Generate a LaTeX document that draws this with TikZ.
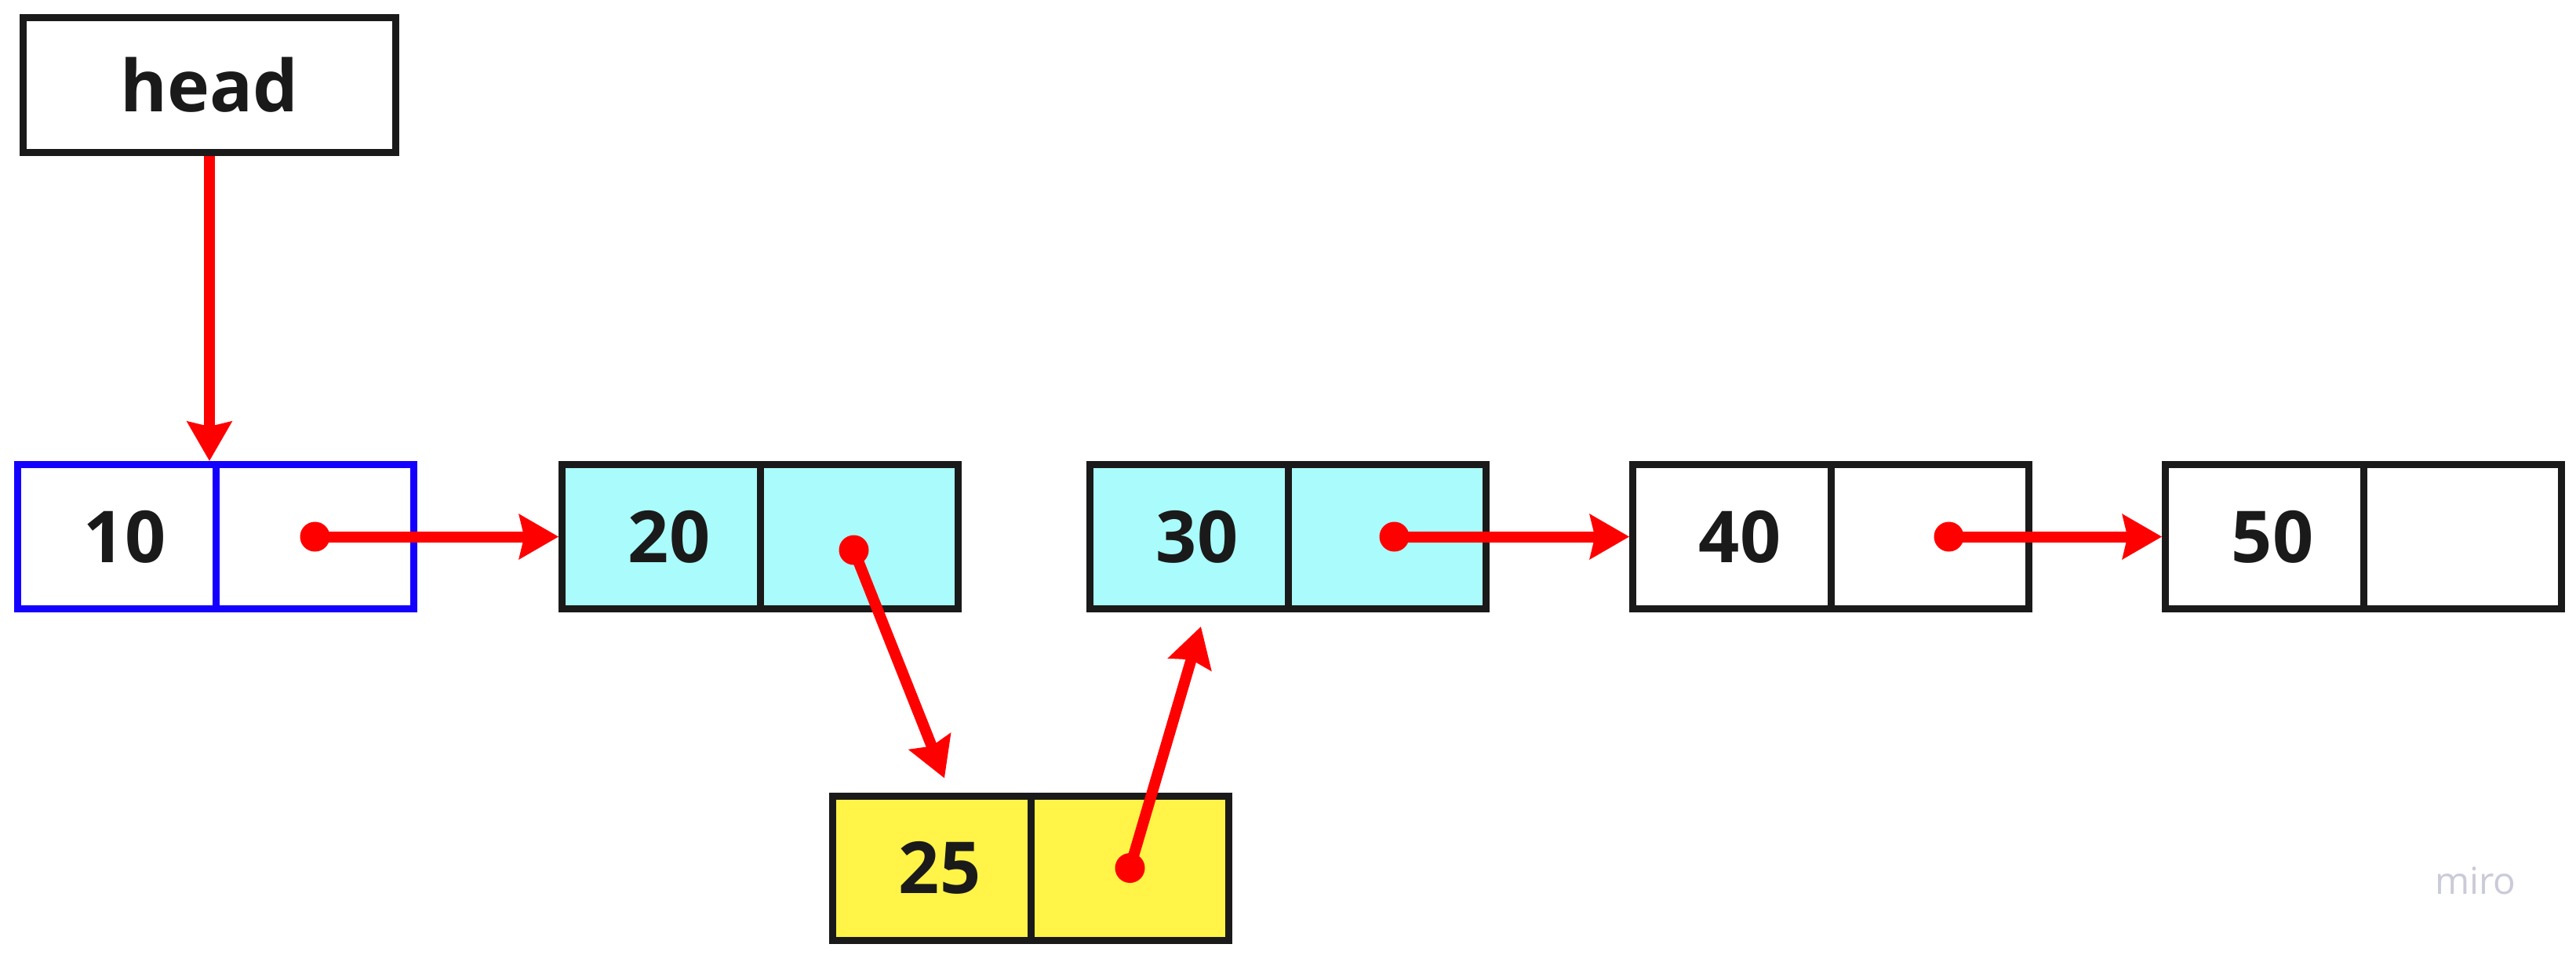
\documentclass[tikz,border=0pt]{standalone}
\usepackage{fontspec}
\setmainfont{Open Sans}
\usetikzlibrary{positioning,calc,arrows.meta}

\definecolor{boxline}{HTML}{1A1A1A}
\definecolor{headblue}{HTML}{1400FF}
\definecolor{cellcyan}{HTML}{AAFBFB}
\definecolor{cellyellow}{HTML}{FFF447}
\definecolor{ptrred}{HTML}{FF0000}
\definecolor{marklilac}{HTML}{CACAD8}

\tikzset{
  cell/.style={draw=boxline, line width=0.09cm, minimum width=2.525cm, minimum height=1.84cm,
    inner sep=0pt, text=boxline, font=\fontsize{26}{30}\selectfont\bfseries},
  value/.style={cell, execute at begin node={\hspace*{0.2cm}}},
  ptrdot/.style={circle, fill=ptrred, inner sep=0pt, minimum size=0.38cm},
  ptr/.style={draw=ptrred, line width=0.14cm, -{Stealth[length=0.5cm, width=0.56cm, inset=0.06cm]}},
}

\begin{document}
\begin{tikzpicture}
    \useasboundingbox (0,0) rectangle (32.84,-12.17);

    % Head box
    \node[cell, minimum width=4.75cm, minimum height=1.72cm] (head) at (2.67,-1.085) {head};

    % List nodes: value cell and next cell
    \node[value, draw=headblue] (d10) at (1.49,-6.845) {10};
    \node[cell, draw=headblue, right=-0.09cm of d10] (p10) {};
    \node[value, fill=cellcyan] (d20) at (8.43,-6.845) {20};
    \node[cell, fill=cellcyan, right=-0.09cm of d20] (p20) {};
    \node[value, fill=cellcyan] (d30) at (15.16,-6.845) {30};
    \node[cell, fill=cellcyan, right=-0.09cm of d30] (p30) {};
    \node[value] (d40) at (22.08,-6.845) {40};
    \node[cell, right=-0.09cm of d40] (p40) {};
    \node[value] (d50) at (28.87,-6.845) {50};
    \node[cell, right=-0.09cm of d50] (p50) {};

    % Inserted node
    \node[value, fill=cellyellow] (d25) at (11.88,-11.07) {25};
    \node[cell, fill=cellyellow, right=-0.09cm of d25] (p25) {};

    % Pointer dots
    \node[ptrdot] (dot10) at (p10.center) {};
    \node[ptrdot] (dot20) at ($(p20.center)+(-0.07,-0.17)$) {};
    \node[ptrdot] (dot25) at (p25.center) {};
    \node[ptrdot] (dot30) at ($(p30.center)+(0.09,0)$) {};
    \node[ptrdot] (dot40) at ($(p40.center)+(0.24,0)$) {};

    \coordinate (in25) at ($(d25.north)+(0.16,0.18)$);
    \coordinate (in30) at ($(d30.south)+(0.15,-0.18)$);

    % Pointers
    \draw[ptr] (head.south) -- (head.south |- d10.north);
    \draw[ptr] (dot10.center) -- (d20.west);
    \draw[ptr] (dot20.center) -- (in25);
    \draw[ptr] (dot25.center) -- (in30);
    \draw[ptr] (dot30.center) -- (d40.west);
    \draw[ptr] (dot40.center) -- (d50.west);

    % Watermark
    \node[anchor=base, text=marklilac, font=\fontsize{13.5}{16}\selectfont] (mark) at (31.56,-11.40) {miro};
\end{tikzpicture}
\end{document}
